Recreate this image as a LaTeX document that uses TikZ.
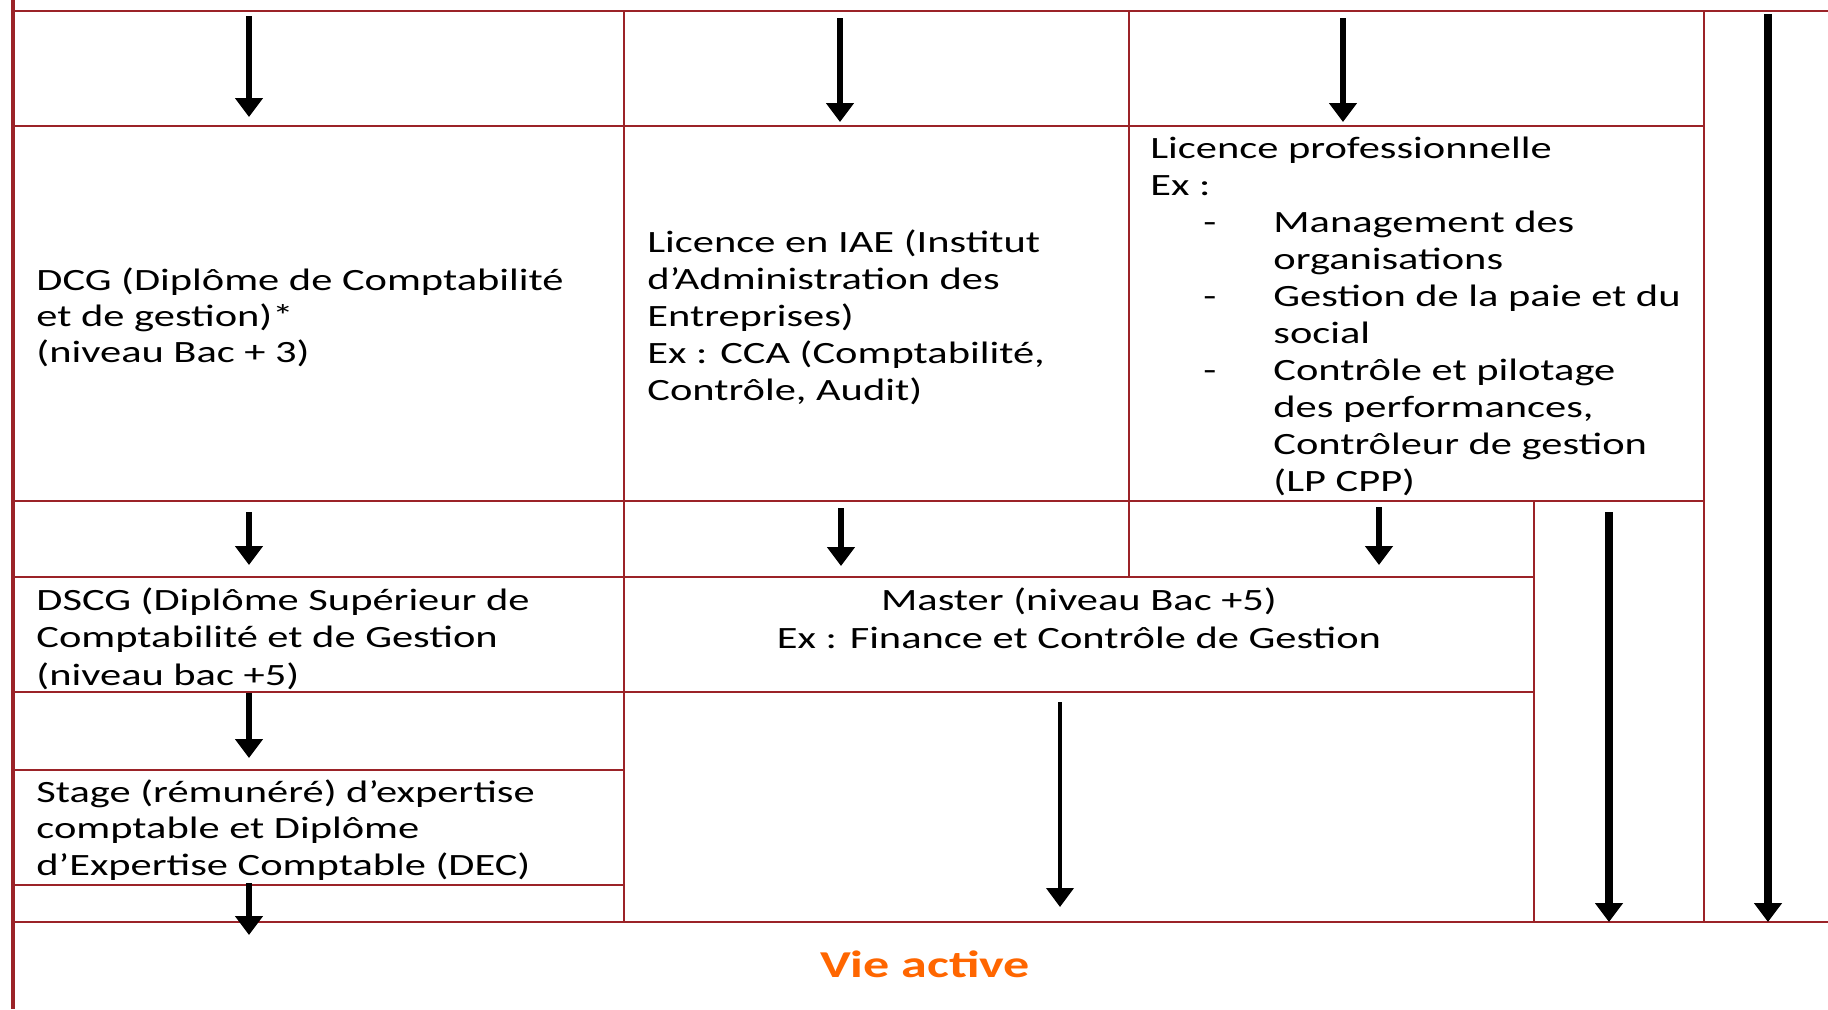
\documentclass[tikz,border=0pt]{standalone}
\usepackage{fontspec}
\setmainfont{Carlito}[FakeStretch=1.37]
\usetikzlibrary{arrows.meta}
\definecolor{gridred}{RGB}{155,35,40}
\definecolor{vieorange}{RGB}{255,102,0}
\begin{document}
\begin{tikzpicture}[x=0.5pt,y=-0.5pt,
  gridline/.style={draw=gridred,line width=1.25pt},
  borderline/.style={draw=gridred,line width=2pt},
  flow/.style={-{Triangle[width=13.5pt,length=9.5pt]},line width=3pt,black},
  thickflow/.style={flow,line width=4pt},
  thinflow/.style={flow,line width=2pt},
  txt/.style={anchor=base west,inner sep=0pt,font=\fontsize{15.5pt}{18.5pt}\selectfont},
  ctxt/.style={txt,anchor=base},
  vie/.style={anchor=base,inner sep=0pt,text=vieorange,font=\fontsize{19pt}{22pt}\selectfont\bfseries}]
\useasboundingbox (0,0) rectangle (1828,1009);
% grid
\draw[gridline] (13,11) -- (1828,11);
\draw[gridline] (13,126) -- (1704,126);
\draw[gridline] (13,501) -- (1704,501);
\draw[gridline] (13,577) -- (1534,577);
\draw[gridline] (13,692) -- (1534,692);
\draw[gridline] (13,770) -- (624,770);
\draw[gridline] (13,885) -- (624,885);
\draw[gridline] (13,922) -- (1828,922);
\draw[gridline] (624,11) -- (624,922);
\draw[gridline] (1129,11) -- (1129,577);
\draw[gridline] (1704,11) -- (1704,922);
\draw[gridline] (1534,501) -- (1534,922);
\draw[borderline] (13,0) -- (13,1009);
% arrow end points
\coordinate (a1s) at (249,16);   \coordinate (a1e) at (249,117);
\coordinate (a2s) at (840,18);   \coordinate (a2e) at (840,122);
\coordinate (a3s) at (1343,18);  \coordinate (a3e) at (1343,122);
\coordinate (a4s) at (1768,14);  \coordinate (a4e) at (1768,922);
\coordinate (a5s) at (249,512);  \coordinate (a5e) at (249,565);
\coordinate (a6s) at (841,508);  \coordinate (a6e) at (841,566);
\coordinate (a7s) at (1379,507); \coordinate (a7e) at (1379,565);
\coordinate (a8s) at (1609,512); \coordinate (a8e) at (1609,922);
\coordinate (a9s) at (249,693);  \coordinate (a9e) at (249,758);
\coordinate (a10s) at (1060,702); \coordinate (a10e) at (1060,907);
\coordinate (a11s) at (249,883); \coordinate (a11e) at (249,935);
\draw[flow] (a1s) -- (a1e);
\draw[flow] (a2s) -- (a2e);
\draw[flow] (a3s) -- (a3e);
\draw[thickflow] (a4s) -- (a4e);
\draw[flow] (a5s) -- (a5e);
\draw[flow] (a6s) -- (a6e);
\draw[flow] (a7s) -- (a7e);
\draw[thickflow] (a8s) -- (a8e);
\draw[flow] (a9s) -- (a9e);
\draw[thinflow] (a10s) -- (a10e);
\draw[flow] (a11s) -- (a11e);
% texts
\foreach \t [count=\i from 0] in {{DCG (Diplôme de Comptabilité},{et de gestion)*},{(niveau Bac + 3)}}
  \node[txt] (dcg\i) at (36,290+36*\i) {\t};
\foreach \t [count=\i from 0] in {{Licence en IAE (Institut},{d’Administration des},{Entreprises)},{Ex : CCA (Comptabilité,},{Contrôle, Audit)}}
  \node[txt] (iae\i) at (647,252+37*\i) {\t};
\node[txt] (lp0) at (1150,158) {Licence professionnelle};
\node[txt] (lp1) at (1150,195) {Ex :};
\node[txt] (dash1) at (1203,232) {-};
\node[txt] (dash2) at (1203,306) {-};
\node[txt] (dash3) at (1203,380) {-};
\foreach \t [count=\i from 0] in {{Management des},{organisations},{Gestion de la paie et du},{social},{Contrôle et pilotage},{des performances,},{Contrôleur de gestion},{(LP CPP)}}
  \node[txt] (lpi\i) at (1273,232+37*\i) {\t};
\foreach \t [count=\i from 0] in {{DSCG (Diplôme Supérieur de},{Comptabilité et de Gestion},{(niveau bac +5)}}
  \node[txt] (dscg\i) at (36,610+37.5*\i) {\t};
\node[ctxt] (master0) at (1079,610) {Master (niveau Bac +5)};
\node[ctxt] (master1) at (1079,648) {Ex : Finance et Contrôle de Gestion};
\foreach \t [count=\i from 0] in {{Stage (rémunéré) d’expertise},{comptable et Diplôme},{d’Expertise Comptable (DEC)}}
  \node[txt] (stage\i) at (36,802+36.5*\i) {\t};
\node[vie] (vie) at (925,977) {Vie active};
\end{tikzpicture}
\end{document}
